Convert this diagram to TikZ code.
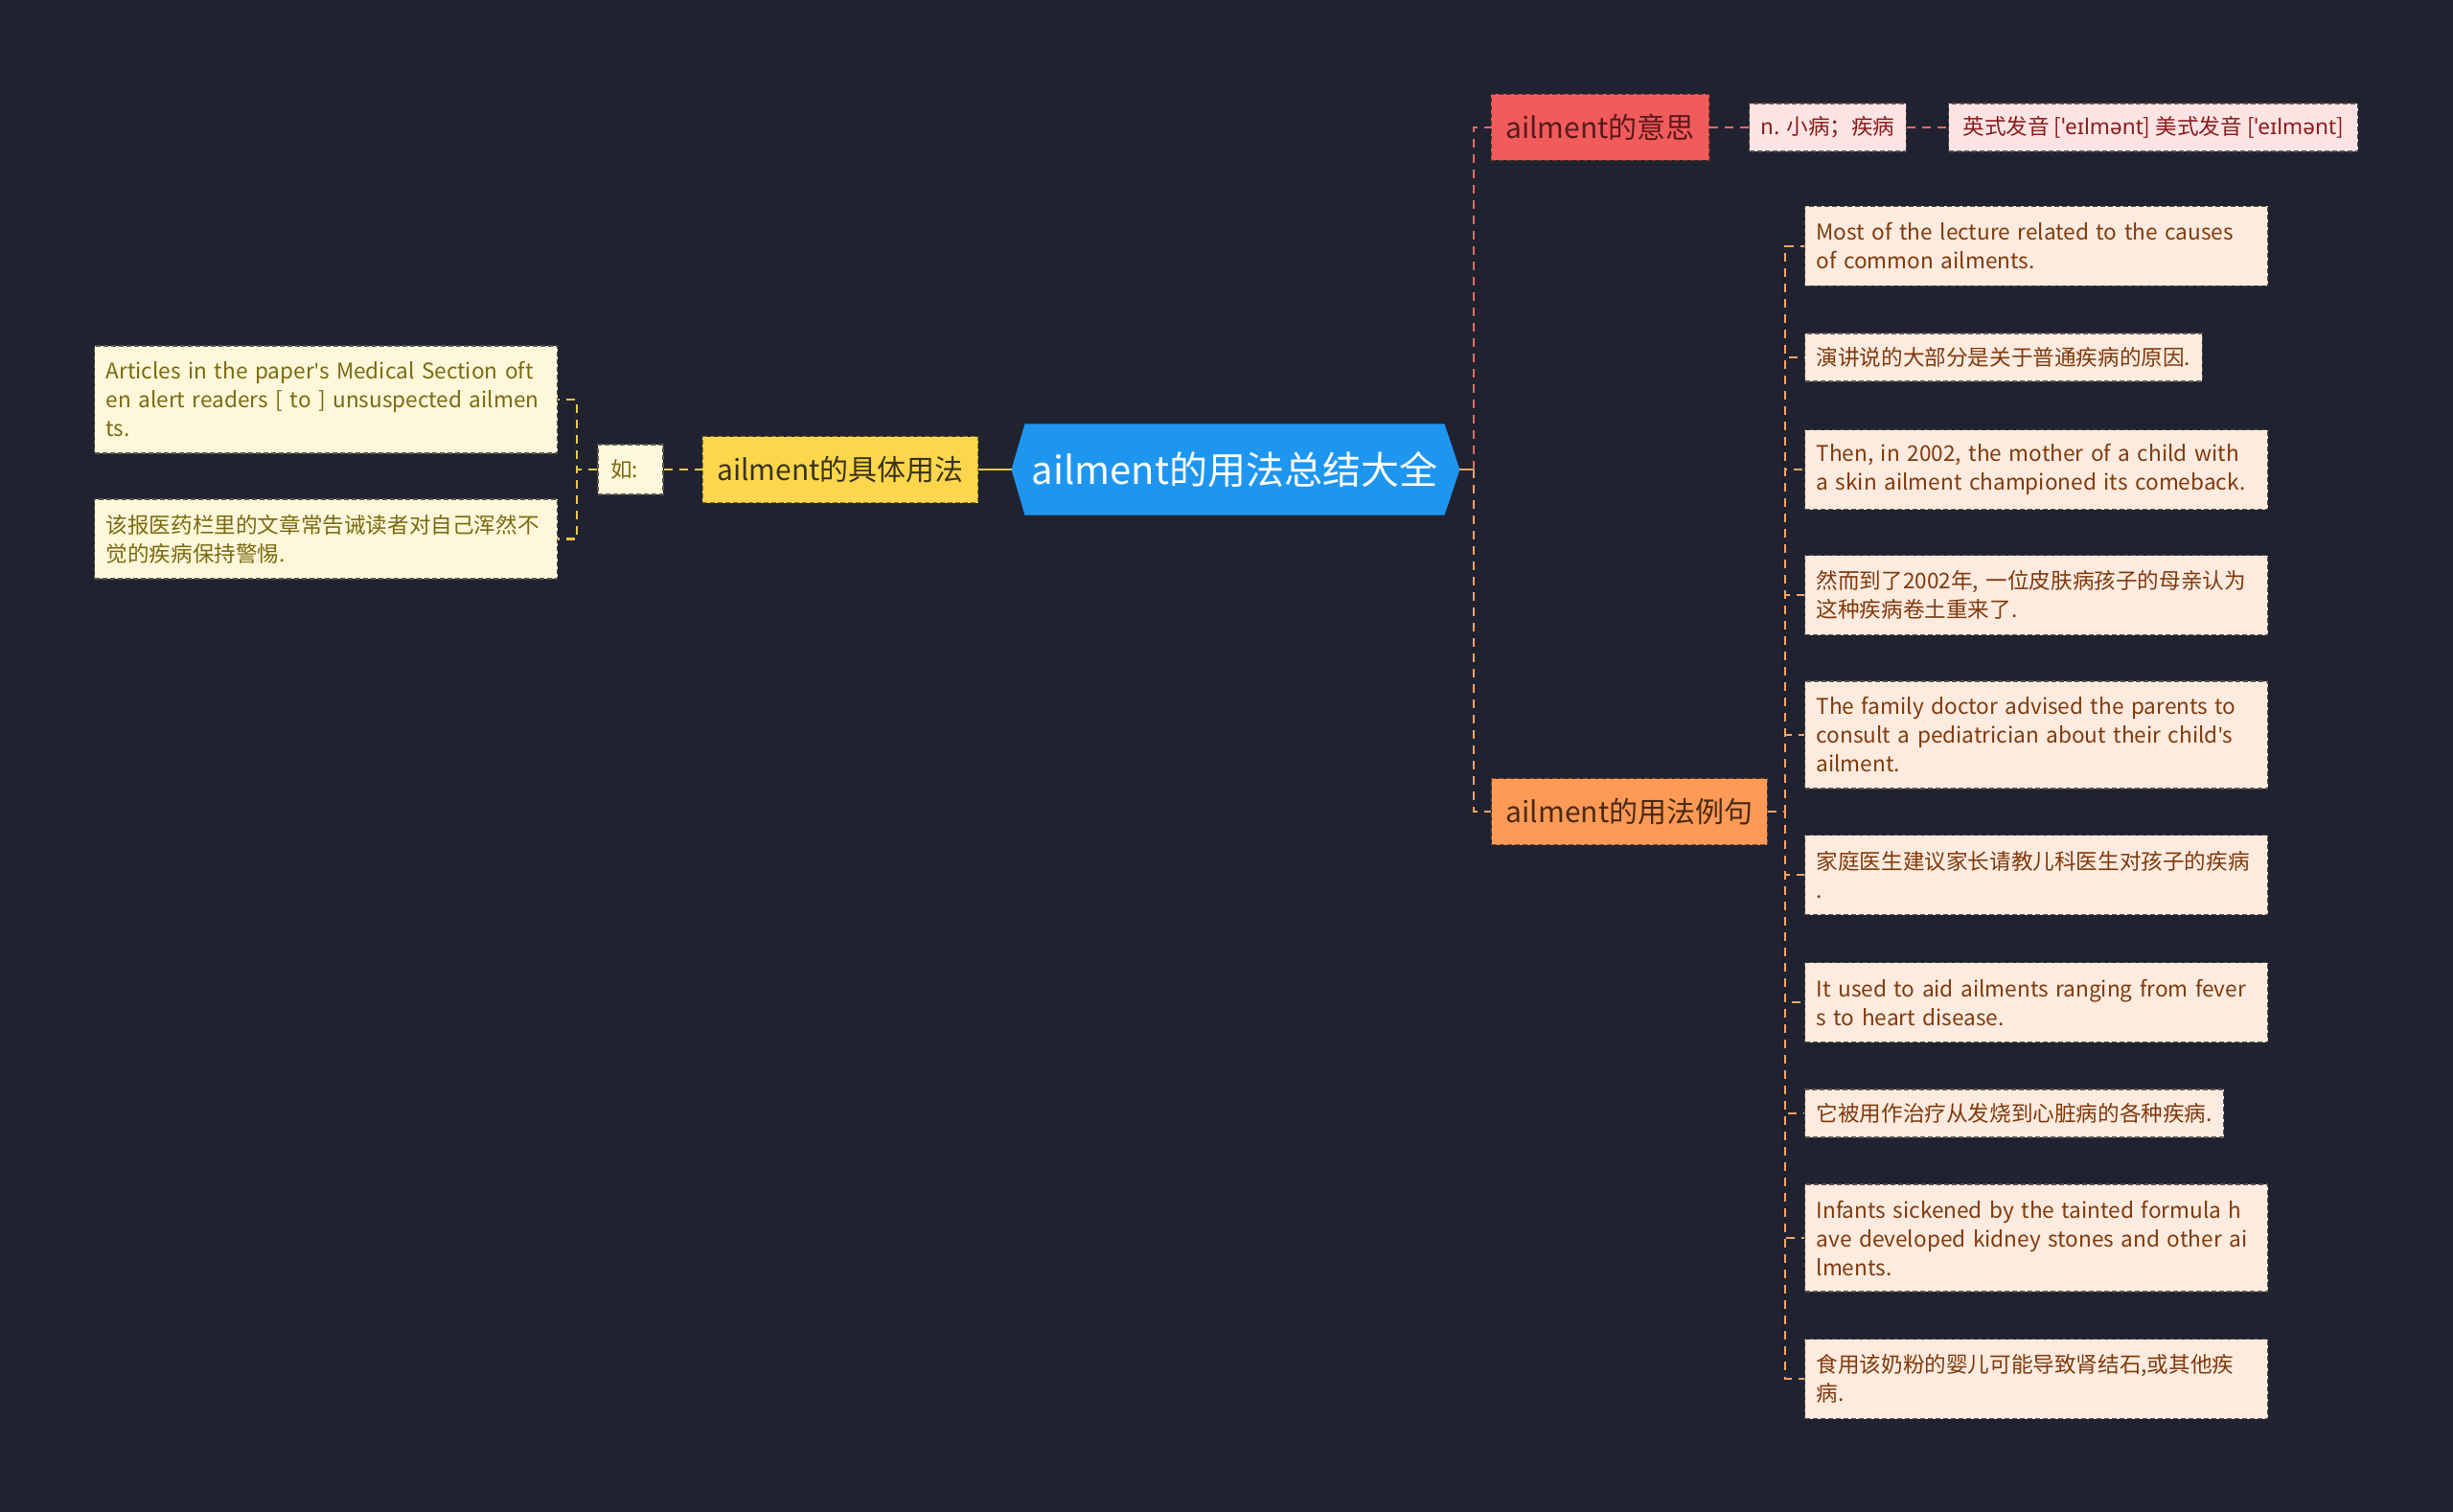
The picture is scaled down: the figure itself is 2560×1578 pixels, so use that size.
\documentclass[tikz,border=0pt]{standalone}
\usepackage{fontspec}
\setmainfont{Noto Sans CJK SC}
\newfontfamily\ipa{Noto Sans}
\newcommand\apos{{\ipa\textquotesingle}}
\usetikzlibrary{backgrounds,calc}
\definecolor{bg}{HTML}{20232F}
\definecolor{rootblue}{HTML}{1E96F0}
\definecolor{ylwfill}{HTML}{FDD64C}
\definecolor{ylwtext}{HTML}{3B3418}
\definecolor{ylwline}{HTML}{E8C84A}
\definecolor{redfill}{HTML}{F25B5B}
\definecolor{redtext}{HTML}{5A1A1A}
\definecolor{redline}{HTML}{E8686A}
\definecolor{pinkfill}{HTML}{FDE4E4}
\definecolor{pinktext}{HTML}{8A1C1C}
\definecolor{orfill}{HTML}{FF9A56}
\definecolor{ortext}{HTML}{4A2A12}
\definecolor{orline}{HTML}{F2A46A}
\definecolor{sentfill}{HTML}{FDEBDF}
\definecolor{senttext}{HTML}{7F3A0E}
\definecolor{creamfill}{HTML}{FFF7DA}
\definecolor{creamtext}{HTML}{7A6A12}
\tikzset{
  conn/.style={line width=2.2pt, dash pattern=on 9pt off 7pt},
  solidconn/.style={line width=2.2pt},
  boxbase/.style={draw, dash pattern=on 5pt off 3pt, line width=1.2pt, inner ysep=0pt},
  leafbase/.style={boxbase, inner xsep=12pt, font=\fontsize{22.6}{30}\selectfont},
  sent/.style={leafbase, fill=sentfill, draw=black!65!sentfill, text=senttext, anchor=west},
  sentw/.style={sent, text width=459pt, align=left},
  cream/.style={leafbase, fill=creamfill, draw=black!65!creamfill, text=creamtext, anchor=west},
  creamw/.style={cream, text width=459pt, align=left},
  pink/.style={leafbase, fill=pinkfill, draw=black!65!pinkfill, text=pinktext, anchor=west, minimum height=50pt},
  branch/.style={boxbase, inner xsep=15pt, minimum height=69pt, font=\fontsize{30}{36}\selectfont},
  hA/.style={minimum height=50pt},
  hB/.style={minimum height=83pt},
  hC/.style={minimum height=112pt},
}
\begin{document}
\begin{tikzpicture}[x=1pt,y=-1pt]
\useasboundingbox (0,0) rectangle (2560,1578);
\begin{scope}[on background layer]
\fill[bg] (0,0) rectangle (2560,1578);
\end{scope}

% root
\node[inner xsep=7pt, inner ysep=0pt, minimum width=427pt, minimum height=95pt, text=white,
  font=\fontsize{40}{46}\selectfont] (root) at (1288.5,490) {ailment的用法总结大全};
\coordinate (rootW) at ($(root.west)+(-14,0)$);
\coordinate (rootE) at ($(root.east)+(16,0)$);
\begin{scope}[on background layer]
\fill[rootblue] (root.north west) -- (root.north east) -- (rootE) -- (root.south east) -- (root.south west) -- (rootW) -- cycle;
\end{scope}

% left side
\node[branch, fill=ylwfill, draw=ylwfill!55!black, text=ylwtext] (yellow) at (877,490) {ailment的具体用法};
\node[leafbase, fill=creamfill, draw=black!65!creamfill, text=creamtext, minimum height=52pt,
  inner xsep=13pt, text width=42pt, align=left] (ru) at (658,490) {如:};
\node[creamw, hC] (box1) at (98,417) {Articles in the paper\apos s Medical Section oft\\en alert readers [ to ] unsuspected ailmen\\ts.};
\node[creamw, hB] (box2) at (98,562.5) {该报医药栏里的文章常告诫读者对自己浑然不\\觉的疾病保持警惕.};

\draw[solidconn, ylwline] (yellow.east) -- (rootW);
\draw[conn, ylwline] (ru.east) -- (yellow.west);
\coordinate (lc) at (602,490);
\draw[conn, ylwline] (ru.west) -- (lc) |- (box1.east);
\draw[conn, ylwline] (ru.west) -- (lc) |- (box2.east);

% right side: meaning
\node[branch, fill=redfill, draw=redfill!50!black, text=redtext] (mean) at (1670,133) {ailment的意思};
\node[pink] (nleaf) at (1825,133) {n. 小病；疾病};
\node[pink, minimum width=427pt] (pron) at (2033,133) {英式发音 [{\ipa ˈeɪlmənt}] 美式发音 [{\ipa ˈeɪlmənt}]};

% right side: examples
\node[branch, fill=orfill, draw=orfill!50!black, text=ortext] (ex) at (1700.5,847) {ailment的用法例句};
\node[sentw, hB] (s1) at (1883,257) {Most of the lecture related to the causes\\of common ailments.};
\node[sent, hA] (s2) at (1883,373) {演讲说的大部分是关于普通疾病的原因.};
\node[sentw, hB] (s3) at (1883,490) {Then, in 2002, the mother of a child with\\a skin ailment championed its comeback.};
\node[sentw, hB] (s4) at (1883,621) {然而到了2002年, 一位皮肤病孩子的母亲认为\\这种疾病卷土重来了.};
\node[sentw, hC] (s5) at (1883,767) {The family doctor advised the parents to\\consult a pediatrician about their child\apos s\\ailment.};
\node[sentw, hB] (s6) at (1883,913) {家庭医生建议家长请教儿科医生对孩子的疾病\\.};
\node[sentw, hB] (s7) at (1883,1046) {It used to aid ailments ranging from fever\\s to heart disease.};
\node[sent, hA] (s8) at (1883,1162) {它被用作治疗从发烧到心脏病的各种疾病.};
\node[sentw, hC] (s9) at (1883,1292) {Infants sickened by the tainted formula h\\ave developed kidney stones and other ai\\lments.};
\node[sentw, hB] (s10) at (1883,1439) {食用该奶粉的婴儿可能导致肾结石,或其他疾\\病.};

\coordinate (rc) at (1538,490);
\draw[solidconn, orline] (rootE) -- (rc);
\draw[conn, redline] (rc) |- (mean.west);
\draw[conn, orline] (rc) |- (ex.west);
\draw[conn, redline] (mean.east) -- (nleaf.west);
\draw[conn, redline] (nleaf.east) -- (pron.west);
\coordinate (ec) at (1863,847);
\foreach \s in {s1,s2,s3,s4,s5,s6,s7,s8,s9,s10}
  \draw[conn, orline] (ex.east) -- (ec) |- (\s.west);
\end{tikzpicture}
\end{document}
